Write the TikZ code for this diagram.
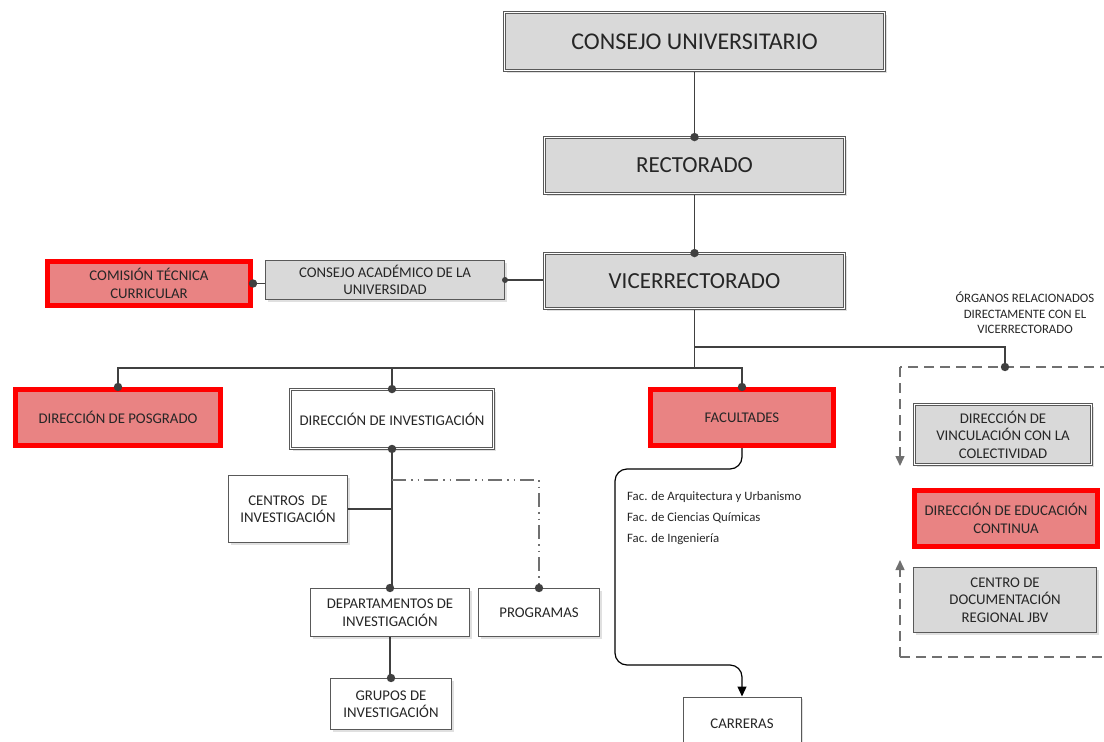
\documentclass[tikz,border=0pt]{standalone}
\usepackage{fontspec}
\setmainfont{Carlito}
\usetikzlibrary{arrows.meta,shadows,backgrounds}
\definecolor{inkc}{HTML}{262626}
\definecolor{boxgray}{HTML}{D9D9D9}
\definecolor{linec}{HTML}{404040}
\definecolor{edgec}{HTML}{595959}
\definecolor{redfill}{HTML}{E98383}
\definecolor{redline}{HTML}{FF0000}
\definecolor{dashc}{HTML}{707070}

\begin{document}
\begin{tikzpicture}[x=1pt,y=-1pt,
  box/.style={rectangle, align=center, inner sep=2pt, text=inkc,
    font=\fontsize{14.8}{17.5}\selectfont, draw=edgec, line width=1pt,
    drop shadow={shadow xshift=2pt, shadow yshift=-2pt, fill=black, opacity=0.12}},
  graybox/.style={box, fill=boxgray},
  whitebox/.style={box, fill=white},
  dbl/.style={double=white, double distance=1.6pt, line width=0.9pt},
  redbox/.style={box, fill=redfill, draw=redline, line width=5pt},
  big/.style={font=\fontsize{23}{27}\selectfont},
  conn/.style={draw=linec, line width=1.2pt},
  joint/.style={fill=linec},
  dashline/.style={draw=dashc, line width=1.5pt, dash pattern=on 10pt off 6pt},
  dashdot/.style={draw=dashc, line width=1.3pt,
    dash pattern=on 14pt off 5pt on 1.5pt off 5pt on 1.5pt off 5pt},
  note/.style={text=inkc, font=\fontsize{12.8}{15.5}\selectfont, align=center},
  faclist/.style={text=inkc, font=\fontsize{12.8}{14}\selectfont, anchor=west, inner sep=0pt}
]
\useasboundingbox (0,0) rectangle (1104,742);

% upper chain of command
\node[graybox, dbl, minimum width=380pt, minimum height=58pt,
  font=\fontsize{24}{28}\selectfont] (cu) at (694.5,41.5) {CONSEJO UNIVERSITARIO};
\node[graybox, dbl, big, minimum width=300pt, minimum height=56pt] (rec) at (694.5,165.5) {RECTORADO};
\node[graybox, dbl, big, minimum width=300pt, minimum height=55pt] (vice) at (694.5,281) {VICERRECTORADO};
\node[graybox, minimum width=239pt, minimum height=39pt] (cac) at (385,280) {CONSEJO ACADÉMICO DE LA\\UNIVERSIDAD};
\node[redbox, minimum width=203pt, minimum height=44pt] (ctc) at (149,283.5) {COMISIÓN TÉCNICA\\CURRICULAR};

% second level
\node[redbox, minimum width=205pt, minimum height=56pt] (posg) at (118,417.5) {DIRECCIÓN DE POSGRADO};
\node[whitebox, dbl, minimum width=203pt, minimum height=59pt] (dinv) at (392,419) {DIRECCIÓN DE INVESTIGACIÓN};
\node[redbox, minimum width=183pt, minimum height=56pt] (fac) at (742,417.5) {FACULTADES};

% bodies related to the vice-rectorate
\node[note] (org) at (1025,313) {ÓRGANOS RELACIONADOS\\DIRECTAMENTE CON EL\\VICERRECTORADO};
\node[graybox, dbl, minimum width=177pt, minimum height=60pt] (dvc) at (1003,434.5) {DIRECCIÓN DE\\VINCULACIÓN CON LA\\COLECTIVIDAD};
\node[redbox, minimum width=183pt, minimum height=56pt] (dec) at (1006,518.5) {DIRECCIÓN DE EDUCACIÓN\\CONTINUA};
\node[graybox, minimum width=183pt, minimum height=65pt] (cdr) at (1005,600) {CENTRO DE\\DOCUMENTACIÓN\\REGIONAL JBV};

% research branch
\node[whitebox, minimum width=119pt, minimum height=67pt] (cinv) at (288,509) {CENTROS~ DE\\INVESTIGACIÓN};
\node[whitebox, minimum width=159pt, minimum height=48pt] (dep) at (390,612.5) {DEPARTAMENTOS DE\\INVESTIGACIÓN};
\node[whitebox, minimum width=121pt, minimum height=48pt] (prog) at (539,612.5) {PROGRAMAS};
\node[whitebox, minimum width=121pt, minimum height=51pt] (grup) at (391,704) {GRUPOS DE\\INVESTIGACIÓN};

% faculties branch
\node[whitebox, minimum width=118pt, minimum height=54pt] (car) at (742,724) {CARRERAS};
\node[faclist] (f1) at (627,497) {Fac. de Arquitectura y Urbanismo};
\node[faclist] (f2) at (627,518) {Fac. de Ciencias Químicas};
\node[faclist] (f3) at (627,539) {Fac. de Ingeniería};

% helper points
\coordinate (bus) at (694.5,368);
\coordinate (obend) at (694.5,347);
\coordinate (otop) at (1005,367);
\coordinate (dtl) at (900,367);
\coordinate (dtr) at (1110,367);
\coordinate (dbl) at (900,657);
\coordinate (dbr) at (1110,657);
\coordinate (dnarrow) at (900,466);
\coordinate (uparrow) at (900,560);
\coordinate (ddlevel) at (0,480);
\coordinate (fa) at (615,469);
\coordinate (fb) at (615,665);

\begin{pgfonlayer}{background}
  \draw[conn] (cu.south) -- (rec.north);
  \draw[conn] (rec.south) -- (vice.north);
  \draw[conn] (cac.east) -- (cac.east -| vice.west);
  \draw[conn] (ctc.east) -- (ctc.east -| cac.west);
  \draw[conn] (vice.south) -- (bus);
  \draw[conn] (posg.north) -- (posg.north |- bus) -- (fac.north |- bus) -- (fac.north);
  \draw[conn] (dinv.north) -- (dinv.north |- bus);
  \draw[conn] (obend) -| (otop);
  \draw[conn] (dinv.south) -- (dinv.south |- dep.north);
  \draw[conn] (cinv.east) -- (cinv.east -| dinv.south);
  \draw[conn] (dep.south) -- (dep.south |- grup.north);
  \draw[dashdot] (dinv.south |- ddlevel) -| (prog.north);
  \draw[draw=black, line width=1.2pt, rounded corners=12pt, -{Triangle[length=10pt,width=9pt]}]
    (fac.south) |- (fa) -- (fb) -| (car.north);
  % dashed frame of the related bodies
  \draw[dashline] (dtr) -- (dtl);
  \draw[dashline] (dbl) -- (dbr);
  \draw[dashline, -{Triangle[length=10pt,width=9pt]}] (dtl) -- (dnarrow);
  \draw[dashline, -{Triangle[length=10pt,width=9pt]}] (dbl) -- (uparrow);
\end{pgfonlayer}

% junction dots
\foreach \p in {rec.north, vice.north, ctc.east, posg.north, dinv.north, fac.north,
                otop, dinv.south, dep.north, prog.north, grup.north}
  \fill[joint] (\p) circle (4.2pt);
\fill[joint] (cac.east) circle (3pt);
\end{tikzpicture}
\end{document}
